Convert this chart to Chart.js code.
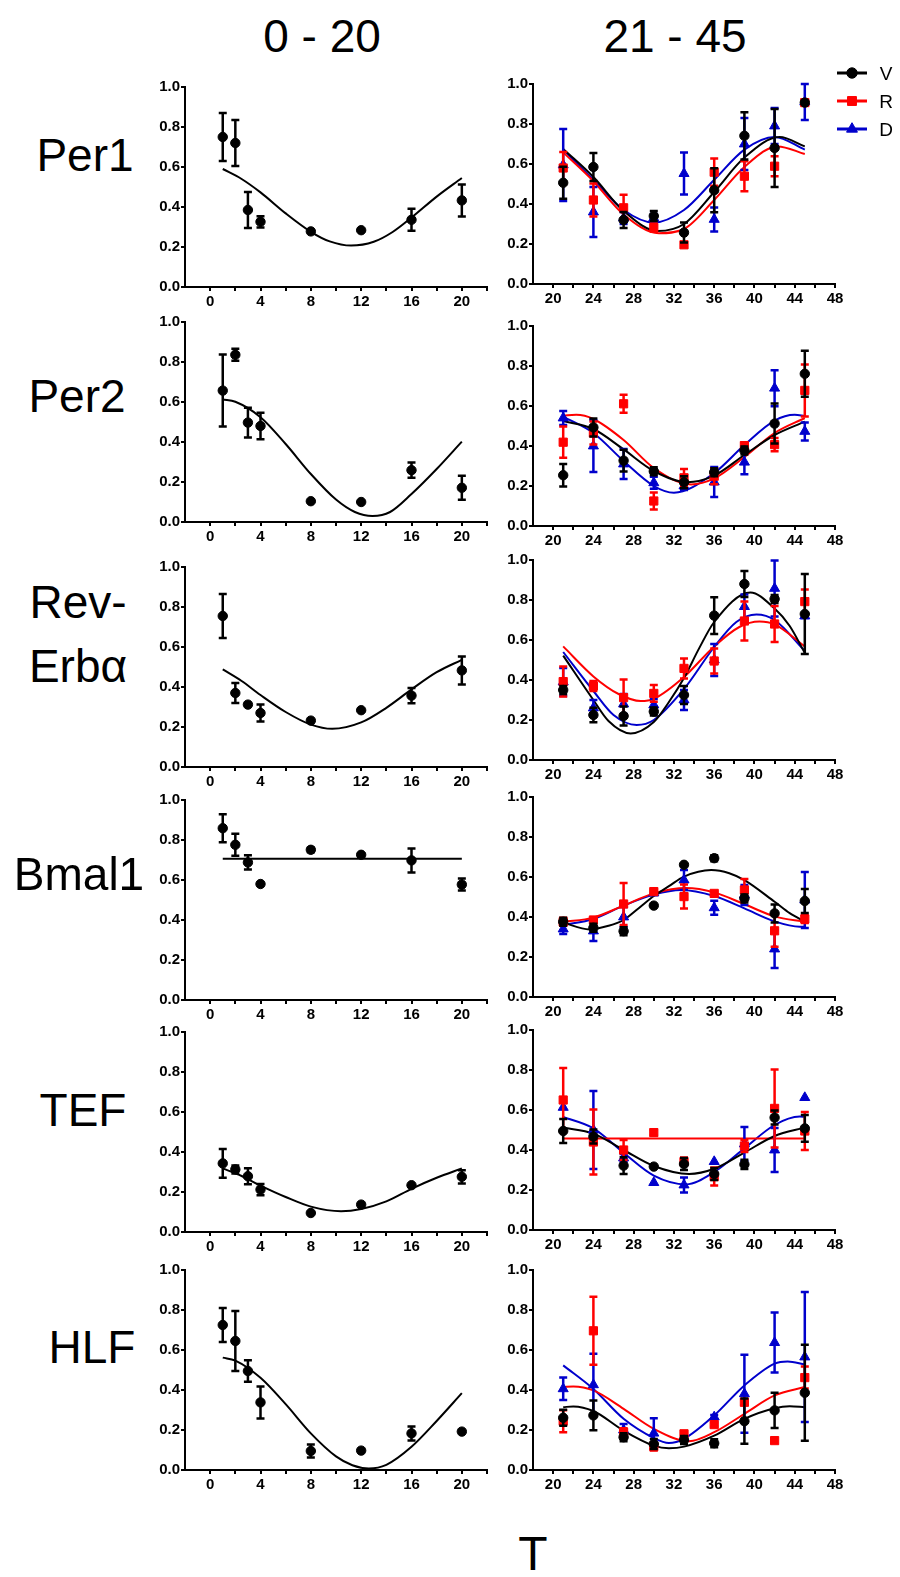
<!DOCTYPE html>
<html>
<head>
<meta charset="utf-8">
<title>Clock genes 0-20 / 21-45</title>
<script src="https://cdn.jsdelivr.net/npm/chart.js@4.4.1/dist/chart.umd.min.js"></script>
<style>
  html, body { margin: 0; padding: 0; background: #fff; }
  #page { position: relative; width: 900px; height: 1577px; overflow: hidden; font-family: 'Liberation Sans', Arial, sans-serif; }
  #page canvas { position: absolute; }
  .lbl { position: absolute; transform: translate(-50%, -50%); color: #000; white-space: nowrap; line-height: 1; text-align: center; }
</style>
</head>
<body>
<div id="page"></div>
<script>
// sampling times and labels
const tLeft = [1, 2, 3, 4, 8, 12, 16, 20];
const tRight = [21, 24, 27, 30, 33, 36, 39, 42, 45];
const genes = ['Per1', 'Per2', 'Rev-Erbα', 'Bmal1', 'TEF', 'HLF'];
const groups = ['V', 'R', 'D'];
const xLabelsLeft = [0, 4, 8, 12, 16, 20];
const xLabelsRight = [20, 24, 28, 32, 36, 40, 44, 48];
const yLabels = ['0.0', '0.2', '0.4', '0.6', '0.8', '1.0'];

// 0 - 20 column : mean, error, fitted curve [t, value]
const per1Mean = [0.75, 0.72, 0.385, 0.326, 0.278, 0.284, 0.336, 0.433];
const per1Err  = [0.12, 0.115, 0.09, 0.028, 0, 0, 0.055, 0.08];
const per1Fit  = [[1, 0.59], [2.5, 0.54], [4, 0.473], [6, 0.368], [8, 0.276], [9.5, 0.228], [11.2, 0.207], [13, 0.226], [14.5, 0.275], [16, 0.347], [18, 0.452], [20, 0.545]];

const per2Mean = [0.657, 0.836, 0.497, 0.48, 0.104, 0.1, 0.259, 0.171];
const per2Err  = [0.18, 0.03, 0.074, 0.066, 0, 0, 0.038, 0.06];
const per2Fit  = [[1, 0.613], [2, 0.601], [4, 0.524], [6, 0.39], [8, 0.24], [10, 0.112], [11.5, 0.05], [12.9, 0.03], [14.3, 0.05], [16, 0.14], [18, 0.265], [20, 0.402]];

const revMean = [0.755, 0.37, 0.312, 0.27, 0.232, 0.284, 0.357, 0.483];
const revErr  = [0.11, 0.05, 0, 0.042, 0, 0, 0.038, 0.07];
const revFit  = [[1, 0.488], [2.5, 0.43], [4, 0.36], [6, 0.275], [8, 0.212], [9.7, 0.191], [12, 0.223], [14, 0.296], [16, 0.388], [18, 0.474], [20, 0.536]];

const bmalMean = [0.859, 0.776, 0.688, 0.58, 0.751, 0.726, 0.698, 0.577];
const bmalErr  = [0.07, 0.055, 0.036, 0, 0.012, 0.008, 0.06, 0.03];
const bmalFit  = [[1, 0.706], [20, 0.706]];

const tefMean = [0.343, 0.313, 0.279, 0.212, 0.095, 0.137, 0.234, 0.276];
const tefErr  = [0.072, 0.02, 0.04, 0.028, 0, 0, 0, 0.033];
const tefFit  = [[1, 0.318], [2.5, 0.28], [4, 0.232], [6, 0.175], [8, 0.127], [10.4, 0.104], [12, 0.115], [14, 0.153], [16, 0.216], [18, 0.271], [20, 0.318]];

const hlfMean = [0.725, 0.645, 0.495, 0.338, 0.095, 0.097, 0.183, 0.192];
const hlfErr  = [0.085, 0.15, 0.054, 0.08, 0.033, 0, 0.035, 0];
const hlfFit  = [[1, 0.562], [2, 0.547], [4, 0.461], [6, 0.329], [8, 0.183], [10, 0.068], [11.3, 0.024], [12.6, 0.008], [14, 0.026], [16, 0.116], [18, 0.245], [20, 0.384]];

// 21 - 45 column : V, R, D groups
const per1V = [0.506, 0.585, 0.32, 0.34, 0.257, 0.469, 0.741, 0.68, 0.907];
const per1VErr = [0.08, 0.07, 0.04, 0.025, 0.05, 0.11, 0.118, 0.195, 0];
const per1R = [0.58, 0.42, 0.381, 0.282, 0.196, 0.559, 0.539, 0.589, 0.907];
const per1RErr = [0.08, 0.083, 0.065, 0.02, 0, 0.068, 0.075, 0.05, 0];
const per1D = [0.595, 0.36, 0.33, 0.33, 0.552, 0.323, 0.70, 0.79, 0.91];
const per1DErr = [0.18, 0.125, 0.03, 0.02, 0.105, 0.06, 0.13, 0.09, 0.09];
const per1VFit = [[21, 0.675], [24, 0.535], [27, 0.365], [30.4, 0.265], [33, 0.3], [36, 0.46], [39, 0.632], [42.5, 0.735], [45, 0.688]];
const per1RFit = [[21, 0.658], [24, 0.514], [27, 0.348], [30.5, 0.254], [33, 0.275], [36, 0.42], [39, 0.585], [42.3, 0.688], [45, 0.65]];
const per1DFit = [[21, 0.672], [24, 0.521], [27, 0.37], [30, 0.307], [33, 0.37], [36, 0.521], [39, 0.672], [42, 0.735], [45, 0.672]];

const per2V = [0.254, 0.493, 0.327, 0.274, 0.219, 0.269, 0.377, 0.512, 0.761];
const per2VErr = [0.056, 0.045, 0.054, 0.02, 0.03, 0.02, 0.02, 0.1, 0.115];
const per2R = [0.419, 0.465, 0.611, 0.125, 0.241, 0.249, 0.402, 0.407, 0.678];
const per2RErr = [0.078, 0.058, 0.045, 0.042, 0.044, 0.04, 0.015, 0.033, 0.13];
const per2D = [0.54, 0.40, 0.31, 0.216, 0.20, 0.22, 0.319, 0.689, 0.473];
const per2DErr = [0.035, 0.13, 0.075, 0.03, 0.02, 0.075, 0.06, 0.09, 0.045];
const per2VFit = [[21, 0.525], [24, 0.485], [27, 0.383], [30, 0.275], [33.3, 0.219], [36, 0.252], [39, 0.355], [42, 0.455], [45, 0.522]];
const per2RFit = [[21, 0.552], [22.3, 0.556], [24, 0.535], [27, 0.43], [30, 0.29], [33.7, 0.208], [36, 0.238], [39, 0.345], [42, 0.465], [45, 0.54]];
const per2DFit = [[21, 0.547], [24, 0.465], [27, 0.325], [30, 0.2], [32, 0.166], [36, 0.265], [39, 0.405], [42, 0.527], [44, 0.556], [45, 0.55]];

const revV = [0.35, 0.225, 0.22, 0.242, 0.325, 0.722, 0.88, 0.805, 0.73];
const revVErr = [0.02, 0.036, 0.048, 0.02, 0.045, 0.092, 0.065, 0.02, 0.2];
const revR = [0.392, 0.37, 0.312, 0.333, 0.458, 0.495, 0.695, 0.68, 0.792];
const revRErr = [0.075, 0.025, 0.09, 0.042, 0.05, 0.062, 0.098, 0.09, 0.06];
const revD = [0.39, 0.26, 0.28, 0.275, 0.30, 0.50, 0.767, 0.858, 0.72];
const revDErr = [0.07, 0.04, 0.05, 0.03, 0.05, 0.08, 0.06, 0.14, 0.01];
const revVFit = [[21, 0.522], [24, 0.30], [25.5, 0.195], [27.7, 0.133], [30, 0.19], [31.5, 0.29], [33, 0.41], [34.5, 0.558], [36, 0.69], [39.6, 0.837], [42, 0.757], [43.5, 0.67], [45, 0.535]];
const revRFit = [[21, 0.568], [24, 0.418], [26.5, 0.33], [28.7, 0.295], [30, 0.306], [33, 0.415], [36, 0.568], [38.5, 0.665], [40.5, 0.692], [42, 0.678], [45, 0.568]];
const revDFit = [[21, 0.54], [24, 0.345], [26, 0.225], [28.3, 0.175], [30, 0.2], [33, 0.355], [36, 0.565], [38.2, 0.69], [40.2, 0.728], [42, 0.7], [45, 0.545]];

const bmalV = [0.376, 0.346, 0.329, 0.457, 0.661, 0.694, 0.493, 0.418, 0.48];
const bmalVErr = [0.02, 0.02, 0.02, 0, 0, 0.015, 0.02, 0.045, 0.06];
const bmalR = [0.376, 0.385, 0.465, 0.527, 0.502, 0.518, 0.535, 0.331, 0.39];
const bmalRErr = [0.02, 0.01, 0.105, 0.01, 0.06, 0.01, 0.055, 0.08, 0.02];
const bmalD = [0.34, 0.33, 0.40, 0.52, 0.585, 0.446, 0.51, 0.24, 0.485];
const bmalDErr = [0.025, 0.05, 0.05, 0.01, 0.05, 0.035, 0.05, 0.095, 0.14];
const bmalVFit = [[21, 0.372], [23.6, 0.338], [25.5, 0.356], [27, 0.385], [28.5, 0.444], [30, 0.505], [31.5, 0.554], [33, 0.602], [35.7, 0.635], [37.5, 0.619], [39, 0.584], [42, 0.476], [43.5, 0.419], [45, 0.377]];
const bmalRFit = [[21, 0.376], [24, 0.397], [27, 0.457], [30, 0.518], [33.2, 0.545], [36, 0.523], [39, 0.464], [42, 0.403], [45, 0.376]];
const bmalDFit = [[21, 0.36], [24, 0.39], [27, 0.457], [30, 0.512], [32.7, 0.535], [36, 0.505], [39, 0.443], [42, 0.378], [44.5, 0.351], [45, 0.352]];

const tefV = [0.495, 0.467, 0.322, 0.317, 0.33, 0.28, 0.328, 0.562, 0.508];
const tefVErr = [0.06, 0.035, 0.042, 0, 0.03, 0.03, 0.023, 0.035, 0.067];
const tefR = [0.65, 0.44, 0.40, 0.487, 0.342, 0.267, 0.42, 0.608, 0.495];
const tefRErr = [0.16, 0.163, 0.05, 0.015, 0.02, 0.045, 0.03, 0.195, 0.095];
const tefD = [0.613, 0.50, 0.36, 0.237, 0.225, 0.342, 0.43, 0.40, 0.662];
const tefDErr = [0, 0.195, 0.02, 0, 0.037, 0, 0.085, 0.11, 0];
const tefVFit = [[21, 0.512], [24, 0.482], [27, 0.40], [30, 0.32], [33.5, 0.28], [36, 0.306], [39, 0.387], [42, 0.47], [45, 0.512]];
const tefRFit = [[21, 0.458], [45, 0.458]];
const tefDFit = [[21, 0.565], [24, 0.508], [27, 0.386], [30, 0.272], [33.2, 0.228], [36, 0.29], [39, 0.408], [42, 0.525], [44.5, 0.567], [45, 0.566]];

const hlfV = [0.261, 0.273, 0.164, 0.13, 0.15, 0.134, 0.244, 0.298, 0.386];
const hlfVErr = [0.04, 0.074, 0.02, 0.025, 0.02, 0.02, 0.113, 0.088, 0.24];
const hlfR = [0.244, 0.696, 0.189, 0.117, 0.181, 0.227, 0.339, 0.147, 0.462];
const hlfRErr = [0.055, 0.17, 0.02, 0.02, 0.01, 0.01, 0.015, 0, 0.055];
const hlfD = [0.406, 0.426, 0.2, 0.184, 0.16, 0.265, 0.381, 0.637, 0.565];
const hlfDErr = [0.056, 0.155, 0.03, 0.075, 0.01, 0.01, 0.195, 0.15, 0.325];
const hlfVFit = [[21, 0.314], [22, 0.318], [24, 0.295], [27, 0.197], [30, 0.122], [31.5, 0.109], [33, 0.117], [36, 0.172], [39, 0.256], [42, 0.309], [43.5, 0.319], [45, 0.314]];
const hlfRFit = [[21, 0.415], [22, 0.418], [24, 0.398], [27, 0.306], [30, 0.206], [33.5, 0.144], [36, 0.189], [39, 0.281], [42, 0.373], [45, 0.415]];
const hlfDFit = [[21, 0.523], [24, 0.405], [27, 0.256], [30, 0.16], [31.5, 0.135], [33, 0.156], [36, 0.273], [39, 0.423], [42, 0.532], [43.3, 0.543], [45, 0.527]];

const leftRows = [
  [per1Mean, per1Err, per1Fit],
  [per2Mean, per2Err, per2Fit],
  [revMean, revErr, revFit],
  [bmalMean, bmalErr, bmalFit],
  [tefMean, tefErr, tefFit],
  [hlfMean, hlfErr, hlfFit]
];
const rightRows = [
  [[per1V, per1VErr, per1VFit], [per1R, per1RErr, per1RFit], [per1D, per1DErr, per1DFit]],
  [[per2V, per2VErr, per2VFit], [per2R, per2RErr, per2RFit], [per2D, per2DErr, per2DFit]],
  [[revV, revVErr, revVFit], [revR, revRErr, revRFit], [revD, revDErr, revDFit]],
  [[bmalV, bmalVErr, bmalVFit], [bmalR, bmalRErr, bmalRFit], [bmalD, bmalDErr, bmalDFit]],
  [[tefV, tefVErr, tefVFit], [tefR, tefRErr, tefRFit], [tefD, tefDErr, tefDFit]],
  [[hlfV, hlfVErr, hlfVFit], [hlfR, hlfRErr, hlfRFit], [hlfD, hlfDErr, hlfDFit]]
];

// look
const groupColors = ['#000000', '#ff0000', '#0000cc'];
const groupStyles = ['circle', 'rect', 'triangle'];
const groupRadius = [4.7, 5.8, 5.8];

// layout
const page = document.getElementById('page');
const Y_AXIS_W = 44, X_AXIS_H = 26, PAD_T = 10, PAD_R = 14;
const PLOT_W = 302, PLOT_H = 200;
const leftX = 185, rightX = 533;
const leftTops = [87, 322, 567, 800, 1032, 1270];
const rightTops = [84, 326, 560, 797, 1030, 1270];

Chart.defaults.font.family = "'Liberation Sans', Arial, sans-serif";
Chart.defaults.font.size = 15;
Chart.defaults.font.weight = 'bold';
Chart.defaults.color = '#000';

// vertical error bars with caps, drawn right after their dataset
const errorBars = {
  id: 'errorBars',
  afterDatasetDraw(chart, args) {
    const ds = chart.data.datasets[args.index];
    if (!ds.errors) return;
    const ctx = chart.ctx;
    const xs = chart.scales.x, ys = chart.scales.y;
    ctx.save();
    ctx.strokeStyle = ds.borderColor;
    ctx.lineWidth = 2.5;
    ds.data.forEach((p, i) => {
      const e = ds.errors[i];
      if (!e) return;
      const px = xs.getPixelForValue(p.x);
      const top = ys.getPixelForValue(p.y + e);
      const bot = ys.getPixelForValue(p.y - e);
      ctx.beginPath();
      ctx.moveTo(px, top); ctx.lineTo(px, bot);
      ctx.moveTo(px - 4, top); ctx.lineTo(px + 4, top);
      ctx.moveTo(px - 4, bot); ctx.lineTo(px + 4, bot);
      ctx.stroke();
    });
    ctx.restore();
  }
};

function pointSet(xs, ys, errs, g) {
  return {
    data: xs.map((x, i) => ({ x: x, y: ys[i] })),
    errors: errs,
    showLine: false,
    pointStyle: groupStyles[g],
    pointRadius: groupRadius[g],
    backgroundColor: groupColors[g],
    borderColor: groupColors[g],
    pointBorderWidth: 1,
    order: g
  };
}

function fitSet(pts, g) {
  return {
    data: pts.map(p => ({ x: p[0], y: p[1] })),
    showLine: true,
    borderColor: groupColors[g],
    borderWidth: 2,
    pointRadius: 0,
    cubicInterpolationMode: 'monotone',
    order: 3 + g
  };
}

function addPanel(chartLeft, chartTop, xMin, xMax, xLabels, datasets) {
  const cv = document.createElement('canvas');
  cv.width = Y_AXIS_W + PLOT_W + PAD_R;
  cv.height = PAD_T + PLOT_H + X_AXIS_H;
  cv.style.left = (chartLeft - Y_AXIS_W) + 'px';
  cv.style.top = (chartTop - PAD_T) + 'px';
  page.appendChild(cv);
  new Chart(cv, {
    type: 'scatter',
    data: { datasets: datasets },
    options: {
      responsive: false,
      animation: false,
      layout: { padding: { top: PAD_T, right: PAD_R, left: 0, bottom: 0 } },
      plugins: { legend: { display: false }, tooltip: { enabled: false } },
      scales: {
        x: {
          type: 'linear',
          min: xMin,
          max: xMax,
          afterFit: s => { s.height = X_AXIS_H; },
          border: { color: '#000', width: 2 },
          grid: {
            drawOnChartArea: false,
            tickLength: 4,
            lineWidth: 2,
            color: c => (c.tick && c.tick.value === xMin ? 'rgba(0,0,0,0)' : '#000')
          },
          ticks: {
            stepSize: 2,
            autoSkip: false,
            maxRotation: 0,
            padding: 2,
            callback: v => (xLabels.includes(v) ? String(v) : '')
          }
        },
        y: {
          min: 0,
          max: 1,
          afterFit: s => { s.width = Y_AXIS_W; },
          border: { color: '#000', width: 2 },
          grid: { drawOnChartArea: false, tickLength: 4, lineWidth: 2, color: '#000' },
          ticks: { stepSize: 0.2, padding: 1, callback: (v, i) => yLabels[i] }
        }
      }
    },
    plugins: [errorBars]
  });
}

// 0 - 20 column
leftRows.forEach((row, r) => {
  addPanel(leftX, leftTops[r], -2, 22, xLabelsLeft, [
    fitSet(row[2], 0),
    pointSet(tLeft, row[0], row[1], 0)
  ]);
});

// 21 - 45 column
rightRows.forEach((row, r) => {
  const sets = [];
  row.forEach((grp, g) => sets.push(fitSet(grp[2], g)));
  row.forEach((grp, g) => sets.push(pointSet(tRight, grp[0], grp[1], g)));
  addPanel(rightX, rightTops[r], 18, 48, xLabelsRight, sets);
});

// text
function addText(html, cx, cy, size, extra) {
  const d = document.createElement('div');
  d.className = 'lbl';
  d.innerHTML = html;
  d.style.left = cx + 'px';
  d.style.top = cy + 'px';
  d.style.fontSize = size + 'px';
  if (extra) Object.assign(d.style, extra);
  page.appendChild(d);
}

addText('0 - 20', 322, 36, 46);
addText('21 - 45', 675, 36, 46);
addText('T', 533, 1554, 48);

const geneX = [85, 77, 78, 79, 83, 92];
const geneY = [155, 396, 634, 874, 1110, 1347];
genes.forEach((g, i) => {
  const html = g.includes('-') ? g.replace('-', '-<br>') : g;
  addText(html, geneX[i], geneY[i], 46, { lineHeight: '64px' });
});

// legend
const lg = document.createElement('canvas');
lg.width = 70; lg.height = 90;
lg.style.left = '830px'; lg.style.top = '58px';
page.appendChild(lg);
const lctx = lg.getContext('2d');
const legendY = [15, 43, 71];
groups.forEach((name, g) => {
  lctx.strokeStyle = groupColors[g];
  lctx.fillStyle = groupColors[g];
  lctx.lineWidth = 3;
  lctx.beginPath();
  lctx.moveTo(7, legendY[g]);
  lctx.lineTo(37, legendY[g]);
  lctx.stroke();
  lctx.lineWidth = 1;
  Chart.helpers.drawPoint(lctx, { pointStyle: groupStyles[g], radius: groupRadius[g] + 0.5, rotation: 0, borderWidth: 1 }, 22, legendY[g]);
  addText(name, 886, 58 + legendY[g], 19, { fontWeight: 'normal' });
});
</script>
</body>
</html>
